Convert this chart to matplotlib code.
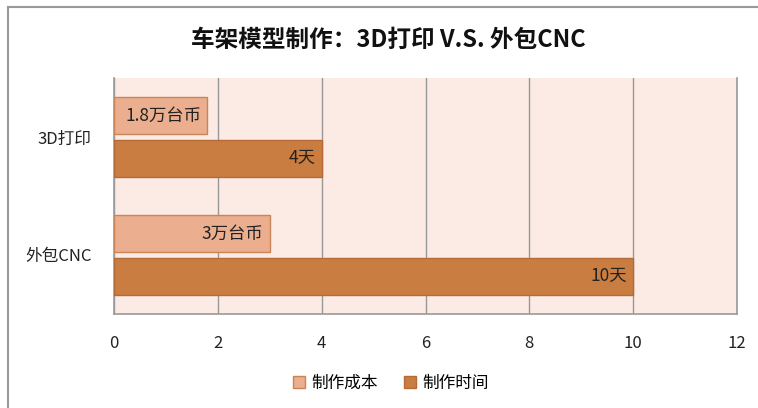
import numpy as np
import matplotlib.pyplot as plt
from matplotlib.lines import Line2D

plt.rcParams['font.family'] = ['Noto Sans CJK SC', 'DejaVu Sans']

categories = ['3D打印', '外包CNC']
series = ['制作成本', '制作时间']
cost = [1.8, 3]
days = [4, 10]
cost_labels = ['1.8万台币', '3万台币']
day_labels = ['4天', '10天']

fig = plt.figure(figsize=(7.58, 4.08), dpi=100)
ax = fig.add_axes([0.1504, 0.2304, 0.8219, 0.5784])

y = np.arange(len(categories))
h = 0.31
off = 0.18

b1 = ax.barh(y - off, cost, height=h, color='#EBAE8E', edgecolor='#C98555',
             linewidth=1, label=series[0], zorder=3)
b2 = ax.barh(y + off, days, height=h, color='#C97D40', edgecolor='#B56B38',
             linewidth=1, label=series[1], zorder=3)

for bars, labs in ((b1, cost_labels), (b2, day_labels)):
    for r, t in zip(bars, labs):
        ax.text(r.get_width() - 0.12, r.get_y() + r.get_height() / 2, t,
                ha='right', va='center', fontsize=12.5, color='#222222', zorder=4)

ax.set_xlim(0, 12)
ax.set_ylim(1.5, -0.5)
ax.set_xticks(np.arange(0, 13, 2))
ax.set_yticks(y)
ax.set_yticklabels(categories)
ax.set_facecolor('#FBEBE4')
ax.grid(axis='x', color='#999999', linewidth=1, zorder=0)
ax.tick_params(length=0, labelsize=12, colors='#222222')
ax.tick_params(axis='x', pad=15)
ax.tick_params(axis='y', pad=16)
for s in ['left', 'bottom', 'right']:
    ax.spines[s].set_color('#999999')
    ax.spines[s].set_linewidth(1.2)
ax.spines['top'].set_visible(False)

fig.text(0.512, 0.902, '车架模型制作：3D打印 V.S. 外包CNC', ha='center', va='center',
         fontsize=17, fontweight='bold', color='#111111')

fig.legend(loc='center', bbox_to_anchor=(0.516, 0.06), ncol=2, frameon=False,
           fontsize=12, handlelength=0.7, handleheight=0.7, handletextpad=0.4,
           columnspacing=1.6)

fig.add_artist(Line2D([0.0106, 0.0106], [0, 0.983], transform=fig.transFigure,
                      color='#999999', linewidth=1.5))
fig.add_artist(Line2D([0.0106, 1], [0.983, 0.983], transform=fig.transFigure,
                      color='#999999', linewidth=1.5))

fig.savefig('out.png', dpi=100)
